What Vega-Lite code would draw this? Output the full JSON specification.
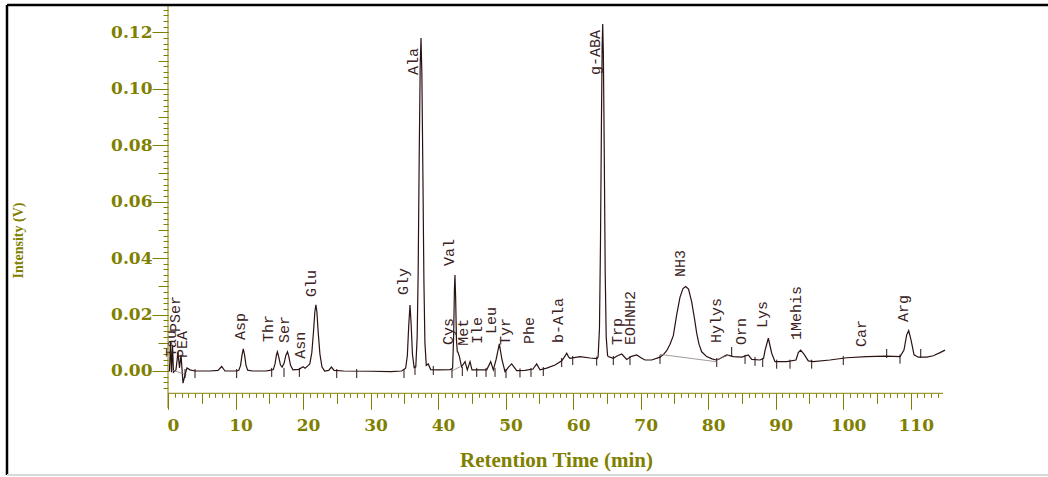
{
  "$schema": "https://vega.github.io/schema/vega-lite/v6.json",
  "width": 1041,
  "height": 470,
  "autosize": {"type": "none"},
  "padding": {"left": 7, "top": 5, "right": 0, "bottom": 2},
  "background": "white",
  "config": {"view": {"stroke": null}},
  "resolve": {"axis": {"x": "independent", "y": "independent"}},
  "datasets": {
    "trace": [
      {"t":0.07,"v":0},{"t":0.22,"v":0},{"t":0.37,"v":0.0103},{"t":0.52,"v":-0.0004},{"t":0.67,"v":0.0092},{"t":0.81,"v":-0.0004},
      {"t":1.18,"v":0.0004},{"t":1.48,"v":0.0067},{"t":1.70,"v":0.0011},{"t":1.93,"v":0.0057},{"t":2.22,"v":-0.0043},{"t":2.52,"v":-0.0014},
      {"t":2.81,"v":0.0011},{"t":3.26,"v":0.0004},{"t":4.0,"v":0},{"t":6.22,"v":0},{"t":7.41,"v":0.0002},{"t":7.95,"v":0.0016},{"t":8.44,"v":0},
      {"t":10.22,"v":0},{"t":10.5,"v":0.0003},{"t":10.75,"v":0.002},{"t":10.95,"v":0.0055},{"t":11.15,"v":0.0078},{"t":11.35,"v":0.0055},
      {"t":11.55,"v":0.002},{"t":11.8,"v":0.0003},{"t":12.5,"v":0},{"t":14.5,"v":0},{"t":15.0,"v":0.0002},{"t":15.6,"v":0.0005},
      {"t":15.85,"v":0.0025},{"t":16.05,"v":0.0055},{"t":16.2,"v":0.0068},{"t":16.4,"v":0.005},{"t":16.65,"v":0.0022},{"t":16.9,"v":0.0014},
      {"t":17.2,"v":0.0028},{"t":17.45,"v":0.0055},{"t":17.7,"v":0.0068},{"t":17.9,"v":0.005},{"t":18.15,"v":0.002},{"t":18.5,"v":0.0004},
      {"t":19.4,"v":0.0006},{"t":20.0,"v":0.0015},{"t":20.3,"v":0.001},{"t":20.7,"v":0.0018},{"t":21.0,"v":0.0025},{"t":21.3,"v":0.0065},
      {"t":21.55,"v":0.014},{"t":21.75,"v":0.021},{"t":21.9,"v":0.0234},{"t":22.05,"v":0.021},{"t":22.25,"v":0.0135},{"t":22.5,"v":0.006},
      {"t":22.8,"v":0.0015},{"t":23.2,"v":0},{"t":23.8,"v":0.0002},{"t":24.2,"v":0.0014},{"t":24.6,"v":0.0002},{"t":26.0,"v":0},
      {"t":30.0,"v":-0.0001},{"t":33.0,"v":-0.0002},{"t":34.6,"v":0},{"t":35.2,"v":0.001},{"t":35.45,"v":0.0055},{"t":35.65,"v":0.016},
      {"t":35.84,"v":0.0234},{"t":36.0,"v":0.017},{"t":36.2,"v":0.006},{"t":36.45,"v":0.0012},{"t":36.7,"v":0.0015},{"t":36.9,"v":0.012},
      {"t":37.05,"v":0.035},{"t":37.2,"v":0.075},{"t":37.35,"v":0.108},{"t":37.47,"v":0.118},{"t":37.6,"v":0.105},{"t":37.75,"v":0.07},
      {"t":37.9,"v":0.032},{"t":38.05,"v":0.01},{"t":38.25,"v":0.002},{"t":38.55,"v":0.0025},{"t":38.9,"v":0.0005},{"t":40.0,"v":0.0004},
      {"t":41.8,"v":0.0005},{"t":42.15,"v":0.001},{"t":42.3,"v":0.012},{"t":42.42,"v":0.029},{"t":42.5,"v":0.034},{"t":42.6,"v":0.026},
      {"t":42.72,"v":0.011},{"t":42.85,"v":0.0068},{"t":42.95,"v":0.0067},{"t":43.17,"v":0.005},{"t":43.47,"v":0.0015},{"t":43.99,"v":0.0033},
      {"t":44.33,"v":0.0004},{"t":44.73,"v":0.0033},{"t":45.02,"v":0.0004},{"t":46.21,"v":0.0004},{"t":47.2,"v":0.0004},{"t":47.79,"v":0.0033},
      {"t":48.18,"v":0.0004},{"t":48.58,"v":0.0039},{"t":49.07,"v":0.0096},{"t":49.47,"v":0.0039},{"t":49.91,"v":-0.0002},{"t":50.43,"v":0.0014},
      {"t":50.9,"v":0.0025},{"t":51.64,"v":0.0001},{"t":52.87,"v":0.0002},{"t":54.06,"v":0.0007},{"t":54.6,"v":0.0025},{"t":55.09,"v":0.0004},
      {"t":56.09,"v":0.001},{"t":57.32,"v":0.0021},{"t":58.31,"v":0.0036},{"t":58.72,"v":0.005},{"t":59.05,"v":0.0063},{"t":59.32,"v":0.005},
      {"t":59.54,"v":0.0045},{"t":61.02,"v":0.0051},{"t":62.5,"v":0.0046},{"t":63.54,"v":0.0044},{"t":63.7,"v":0.005},{"t":63.9,"v":0.015},
      {"t":64.05,"v":0.045},{"t":64.2,"v":0.09},{"t":64.3,"v":0.115},{"t":64.38,"v":0.1229},{"t":64.48,"v":0.112},{"t":64.6,"v":0.08},
      {"t":64.75,"v":0.035},{"t":64.9,"v":0.012},{"t":65.1,"v":0.0055},{"t":65.21,"v":0.0051},{"t":65.95,"v":0.0045},{"t":66.57,"v":0.0054},
      {"t":67.2,"v":0.006},{"t":67.94,"v":0.0041},{"t":68.65,"v":0.0052},{"t":69.42,"v":0.0057},{"t":70.05,"v":0.0047},{"t":70.65,"v":0.0039},
      {"t":71.64,"v":0.0039},{"t":72.87,"v":0.0049},{"t":73.36,"v":0.0058},{"t":73.86,"v":0.0072},{"t":74.35,"v":0.0095},{"t":74.84,"v":0.0125},
      {"t":75.34,"v":0.02},{"t":75.83,"v":0.0262},{"t":76.27,"v":0.0292},{"t":76.67,"v":0.0299},{"t":77.09,"v":0.029},{"t":77.56,"v":0.0245},
      {"t":77.98,"v":0.0185},{"t":78.3,"v":0.0134},{"t":78.64,"v":0.0095},{"t":79.04,"v":0.0068},{"t":79.78,"v":0.0051},{"t":80.57,"v":0.0043},
      {"t":81.18,"v":0.0039},{"t":81.5,"v":0.0041},{"t":82.75,"v":0.0057},{"t":83.72,"v":0.0051},{"t":84.97,"v":0.0049},{"t":85.94,"v":0.0057},
      {"t":86.45,"v":0.0041},{"t":87.68,"v":0.0039},{"t":88.2,"v":0.0045},{"t":88.43,"v":0.0074},{"t":88.91,"v":0.0116},{"t":89.41,"v":0.0063},
      {"t":89.9,"v":0.0033},{"t":91.63,"v":0.0033},{"t":93.01,"v":0.0039},{"t":93.35,"v":0.0065},{"t":93.7,"v":0.0074},{"t":94.19,"v":0.006},
      {"t":94.83,"v":0.0036},{"t":95.57,"v":0.0033},{"t":98.04,"v":0.0039},{"t":100.52,"v":0.0047},{"t":103.48,"v":0.0051},{"t":106.44,"v":0.0053},
      {"t":108.41,"v":0.0051},{"t":109.0,"v":0.0074},{"t":109.4,"v":0.0128},{"t":109.7,"v":0.0143},{"t":110.04,"v":0.011},{"t":110.49,"v":0.0057},
      {"t":111.12,"v":0.0049},{"t":112.37,"v":0.0049},{"t":113.34,"v":0.0054},{"t":114.34,"v":0.0065},{"t":115.08,"v":0.0074}
    ],
    "bases": [
      {"seg":"a","t":0.55,"v":0.0004},{"seg":"a","t":2.77,"v":-0.0014},
      {"seg":"b","t":42.02,"v":0},{"seg":"b","t":43.25,"v":0.0015},
      {"seg":"c","t":72.87,"v":0.0059},{"seg":"c","t":81.18,"v":0.0033},
      {"seg":"d","t":81.18,"v":0.0039},{"seg":"d","t":83.15,"v":0.0057}
    ],
    "events": [
      {"t":2.52,"lo":-0.0025,"hi":0.0007},{"t":4.0,"lo":-0.0025,"hi":0.0007},{"t":10.17,"lo":-0.0025,"hi":0.0007},
      {"t":15.36,"lo":-0.0021,"hi":0.0011},{"t":17.18,"lo":-0.0021,"hi":0.0011},{"t":19.45,"lo":-0.0021,"hi":0.0011},
      {"t":24.99,"lo":-0.0025,"hi":0.0007},{"t":27.95,"lo":-0.0025,"hi":0.0007},{"t":34.95,"lo":-0.0025,"hi":0.0007},
      {"t":36.58,"lo":-0.0014,"hi":0.0018},{"t":39.29,"lo":-0.0014,"hi":0.0018},{"t":42.06,"lo":-0.0025,"hi":0.0007},
      {"t":43.59,"lo":-0.0018,"hi":0.0014},{"t":45.72,"lo":-0.0021,"hi":0.0011},{"t":47.1,"lo":-0.0021,"hi":0.0011},
      {"t":48.43,"lo":-0.0021,"hi":0.0011},{"t":50.06,"lo":-0.0025,"hi":0.0007},{"t":52.13,"lo":-0.0023,"hi":0.0009},
      {"t":53.76,"lo":-0.0021,"hi":0.0011},{"t":55.58,"lo":-0.0018,"hi":0.0014},{"t":58.31,"lo":0.0014,"hi":0.0046},
      {"t":59.94,"lo":0.0021,"hi":0.0053},{"t":63.49,"lo":0.0019,"hi":0.0051},{"t":65.95,"lo":0.0021,"hi":0.0053},
      {"t":68.42,"lo":0.0021,"hi":0.0053},{"t":72.87,"lo":0.0025,"hi":0.0057},{"t":81.27,"lo":0.0014,"hi":0.0046},
      {"t":83.48,"lo":0.0053,"hi":0.0085},{"t":85.46,"lo":0.0025,"hi":0.0057},{"t":86.94,"lo":0.0018,"hi":0.005},
      {"t":88.08,"lo":0.0014,"hi":0.0046},{"t":90.15,"lo":0.0008,"hi":0.004},{"t":92.12,"lo":0.0008,"hi":0.004},
      {"t":95.33,"lo":0.0008,"hi":0.004},{"t":100.01,"lo":0.0021,"hi":0.0053},{"t":106.44,"lo":0.0046,"hi":0.0078},
      {"t":108.41,"lo":0.0026,"hi":0.0058},{"t":111.48,"lo":0.0046,"hi":0.0078}
    ],
    "labels": [
      {"name":"PSer","t":1.0,"v":0.0138},{"name":"Tau","t":0.45,"v":0.005},{"name":"PEA","t":2.1,"v":0.0046},
      {"name":"Asp","t":10.66,"v":0.011},{"name":"Thr","t":14.81,"v":0.0103},{"name":"Ser","t":17.18,"v":0.0099},
      {"name":"Asn","t":19.55,"v":0.0043},{"name":"Glu","t":21.18,"v":0.0262},{"name":"Gly","t":34.8,"v":0.0269},
      {"name":"Ala","t":36.35,"v":0.1049},{"name":"Val","t":41.62,"v":0.0372},{"name":"Cys","t":41.47,"v":0.0092},
      {"name":"Met","t":43.69,"v":0.0089},{"name":"Ile","t":45.76,"v":0.0096},{"name":"Leu","t":47.84,"v":0.0131},
      {"name":"Tyr","t":49.91,"v":0.0092},{"name":"Phe","t":53.47,"v":0.0096},{"name":"b-Ala","t":57.76,"v":0.0099},
      {"name":"g-ABA","t":63.24,"v":0.1049},{"name":"Trp","t":66.5,"v":0.0092},{"name":"EOHNH2","t":68.42,"v":0.0092},
      {"name":"NH3","t":75.83,"v":0.0333},{"name":"Hylys","t":81.16,"v":0.0099},{"name":"Orn","t":84.86,"v":0.0092},
      {"name":"Lys","t":87.97,"v":0.0152},{"name":"1Mehis","t":93.01,"v":0.011},{"name":"Car","t":102.64,"v":0.0085},
      {"name":"Arg","t":108.86,"v":0.0174}
    ]
  },
  "layer": [
    {
      "data": {"name": "trace"},
      "mark": {"type": "line", "color": "#2b1212", "strokeWidth": 1.2, "interpolate": "linear"},
      "encoding": {
        "x": {
          "field": "t", "type": "quantitative",
          "scale": {"domain": [-23.845, 130.33], "nice": false, "zero": false},
          "axis": {
            "orient": "bottom", "offset": -81.7, "domain": false, "grid": false,
            "values": [0,10,20,30,40,50,60,70,80,90,100,110],
            "format": "d",
            "tickColor": "#808000", "tickWidth": 1, "tickSize": 16,
            "labelOverlap": false, "labelFlush": false, "labelBound": false,
            "labelFont": "DejaVu Serif", "labelFontWeight": "bold", "labelFontSize": 17, "labelColor": "#808000",
            "labelOffset": 5, "labelPadding": 8,
            "title": "Retention Time (min)", "titleFont": "Liberation Serif", "titleFontWeight": "bold", "titleFontSize": 21,
            "titleColor": "#808000", "titleX": 549, "titleY": 67, "titleBaseline": "middle", "titleAlign": "center", "titlePadding": 0
          }
        },
        "y": {
          "field": "v", "type": "quantitative",
          "scale": {"domain": [-0.03685, 0.12967], "nice": false, "zero": false},
          "axis": {
            "orient": "left", "offset": -161, "domain": false, "grid": false,
            "values": [0,0.02,0.04,0.06,0.08,0.1,0.12],
            "format": ".2f",
            "tickColor": "#808000", "tickWidth": 1, "tickSize": 16,
            "labelOverlap": false, "labelFlush": false, "labelBound": false,
            "labelFont": "DejaVu Serif", "labelFontWeight": "bold", "labelFontSize": 17, "labelColor": "#808000",
            "labelPadding": 0,
            "title": "Intensity (V)", "titleFont": "Liberation Serif", "titleFontWeight": "bold", "titleFontSize": 14,
            "titleColor": "#808000", "titleX": -150, "titleY": 235, "titleBaseline": "middle", "titleAlign": "center", "titleAngle": 270, "titlePadding": 0
          }
        }
      }
    },
    {
      "data": {"name": "bases"},
      "mark": {"type": "line", "color": "#8a8080", "strokeWidth": 0.8},
      "encoding": {
        "x": {
          "field": "t", "type": "quantitative",
          "axis": {"orient": "bottom", "offset": -81.7, "domain": false, "grid": false, "labels": false, "title": null,
                   "values": [5,15,25,35,45,55,65,75,85,95,105], "tickColor": "#808000", "tickWidth": 1, "tickSize": 10}
        },
        "y": {
          "field": "v", "type": "quantitative",
          "axis": {"orient": "left", "offset": -161, "domain": false, "grid": false, "labels": false, "title": null,
                   "values": [0.01,0.03,0.05,0.07,0.09,0.11], "tickColor": "#808000", "tickWidth": 1, "tickSize": 10}
        },
        "detail": {"field": "seg"}
      }
    },
    {
      "data": {"name": "events"},
      "mark": {"type": "rule", "color": "#2b1212", "strokeWidth": 1},
      "encoding": {
        "x": {
          "field": "t", "type": "quantitative",
          "axis": {"orient": "bottom", "offset": -81.7, "domain": false, "grid": false, "labels": false, "title": null,
                   "values": [0,1,2,3,4,5,6,7,8,9,10,11,12,13,14,15,16,17,18,19,20,21,22,23,24,25,26,27,28,29,30,31,32,33,34,35,36,37,38,39,40,41,42,43,44,45,46,47,48,49,50,51,52,53,54,55,56,57,58,59,60,61,62,63,64,65,66,67,68,69,70,71,72,73,74,75,76,77,78,79,80,81,82,83,84,85,86,87,88,89,90,91,92,93,94,95,96,97,98,99,100,101,102,103,104,105,106,107,108,109,110,111,112,113,114],
                   "tickColor": "#808000", "tickWidth": 1, "tickSize": 4}
        },
        "y": {
          "field": "lo", "type": "quantitative",
          "axis": {"orient": "left", "offset": -161, "domain": false, "grid": false, "labels": false, "title": null,
                   "values": [-0.006,-0.004,-0.002,0,0.002,0.004,0.006,0.008,0.01,0.012,0.014,0.016,0.018,0.02,0.022,0.024,0.026,0.028,0.03,0.032,0.034,0.036,0.038,0.04,0.042,0.044,0.046,0.048,0.05,0.052,0.054,0.056,0.058,0.06,0.062,0.064,0.066,0.068,0.07,0.072,0.074,0.076,0.078,0.08,0.082,0.084,0.086,0.088,0.09,0.092,0.094,0.096,0.098,0.1,0.102,0.104,0.106,0.108,0.11,0.112,0.114,0.116,0.118,0.12,0.122,0.124,0.126,0.128],
                   "tickColor": "#808000", "tickWidth": 1, "tickSize": 5}
        },
        "y2": {"field": "hi"}
      }
    },
    {
      "data": {"name": "labels"},
      "mark": {"type": "text", "angle": 270, "align": "left", "baseline": "middle", "font": "Liberation Mono", "fontSize": 15, "color": "#3a2222"},
      "encoding": {
        "x": {"field": "t", "type": "quantitative", "axis": null},
        "y": {"field": "v", "type": "quantitative", "axis": null},
        "text": {"field": "name"}
      }
    },
    {
      "data": {"values": [{}]},
      "mark": {"type": "rule", "color": "#808000", "strokeWidth": 1},
      "encoding": {
        "x": {"datum": 0, "type": "quantitative", "axis": null},
        "y": {"datum": -0.0131, "type": "quantitative", "axis": null},
        "y2": {"datum": 0.1297}
      }
    },
    {
      "data": {"values": [{}]},
      "mark": {"type": "rule", "color": "#808000", "strokeWidth": 1},
      "encoding": {
        "y": {"datum": -0.0079, "type": "quantitative", "axis": null},
        "x": {"datum": 0, "type": "quantitative", "axis": null},
        "x2": {"datum": 114.8}
      }
    },
    {
      "data": {"values": [{}]},
      "mark": {"type": "rule", "color": "#000000", "strokeWidth": 2.5},
      "encoding": {"y": {"datum": 0.12967, "type": "quantitative", "axis": null}}
    },
    {
      "data": {"values": [{}]},
      "mark": {"type": "rule", "color": "#000000", "strokeWidth": 2.5},
      "encoding": {"x": {"datum": -23.845, "type": "quantitative", "axis": null}}
    },
    {
      "data": {"values": [{}]},
      "mark": {"type": "rule", "color": "#d9d9d9", "strokeWidth": 2},
      "encoding": {"y": {"datum": -0.03685, "type": "quantitative", "axis": null}}
    }
  ]
}
